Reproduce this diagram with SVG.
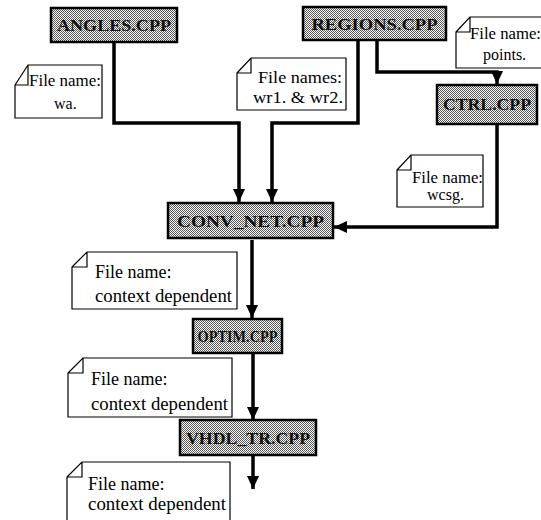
<svg xmlns="http://www.w3.org/2000/svg" width="541" height="520" viewBox="0 0 541 520">
<defs>
<pattern id="dots" width="2" height="2" patternUnits="userSpaceOnUse">
<rect width="2" height="2" fill="#ffffff"/>
<rect x="0" y="0" width="1" height="1" fill="#555"/>
<rect x="1" y="1" width="1" height="1" fill="#555"/>
</pattern>
<marker id="arr" markerUnits="userSpaceOnUse" markerWidth="14" markerHeight="14" viewBox="0 0 14 14" refX="13" refY="7" orient="auto">
<path d="M0,1 L13,7 L0,13 Z" fill="#000"/>
</marker>
</defs>
<style>
.box{fill:url(#dots);stroke:#000;stroke-width:2.5}
.bt{font-family:"Liberation Serif","Times New Roman",serif;font-weight:bold;font-size:17px;fill:#111;text-anchor:middle}
.note{fill:#fff;stroke:#000;stroke-width:1.2}
.nt{font-family:"Liberation Serif","Times New Roman",serif;font-size:16px;fill:#000}
.nt2{font-family:"Liberation Serif","Times New Roman",serif;font-size:18px;fill:#000}
.c{fill:none;stroke:#000;stroke-width:3.5}
</style>
<g id="connectors">
<path class="c" d="M114,43 V123 H239 V202" marker-end="url(#arr)"/>
<path class="c" d="M358,41 V123 H272 V202" marker-end="url(#arr)"/>
<path class="c" d="M377,41 V72 H497 V84" marker-end="url(#arr)"/>
<path class="c" d="M497,125 V227 H334" marker-end="url(#arr)"/>
<path class="c" d="M252,240 V318" marker-end="url(#arr)"/>
<path class="c" d="M253,353 V420" marker-end="url(#arr)"/>
<path class="c" d="M253,455 V489" marker-end="url(#arr)"/>
</g>
<g id="angles">
<rect class="box" x="51" y="8" width="126" height="34"/>
<text class="bt" x="114" y="31" textLength="114" lengthAdjust="spacingAndGlyphs">ANGLES.CPP</text>
</g>
<g id="regions">
<rect class="box" x="303" y="7" width="143" height="33"/>
<text class="bt" x="374.5" y="30" textLength="126" lengthAdjust="spacingAndGlyphs">REGIONS.CPP</text>
</g>
<g id="ctrl">
<rect class="box" x="437" y="85" width="100" height="39"/>
<text class="bt" x="487" y="110" textLength="88" lengthAdjust="spacingAndGlyphs">CTRL.CPP</text>
</g>
<g id="conv_net">
<rect class="box" x="168" y="203" width="165" height="35"/>
<text class="bt" x="250.5" y="227" textLength="147" lengthAdjust="spacingAndGlyphs">CONV_NET.CPP</text>
</g>
<g id="optim">
<rect class="box" x="193" y="319" width="89" height="34"/>
<text class="bt" x="237.5" y="342" textLength="80" lengthAdjust="spacingAndGlyphs">OPTIM.CPP</text>
</g>
<g id="vhdl_tr">
<rect class="box" x="180" y="420" width="136" height="35"/>
<text class="bt" x="248" y="444" textLength="124" lengthAdjust="spacingAndGlyphs">VHDL_TR.CPP</text>
</g>
<g id="note_wa">
<path class="note" d="M15,85 L28,65 H102 V118 H15 Z M15,85 H28 V65"/>
<text class="nt" x="29" y="86" textLength="72" lengthAdjust="spacingAndGlyphs">File name:</text>
<text class="nt" x="54" y="109">wa.</text>
</g>
<g id="note_wr">
<path class="note" d="M237,73 L251,58 H346 V110 H237 Z M237,73 H251 V58"/>
<text class="nt" x="258" y="83" textLength="84" lengthAdjust="spacingAndGlyphs">File names:</text>
<text class="nt" x="253" y="103" textLength="90" lengthAdjust="spacingAndGlyphs">wr1. &amp; wr2.</text>
</g>
<g id="note_points">
<path class="note" d="M456,32 L470,17 H542 V68 H456 Z M456,32 H470 V17"/>
<text class="nt" x="470" y="39" textLength="71" lengthAdjust="spacingAndGlyphs">File name:</text>
<text class="nt" x="483" y="60">points.</text>
</g>
<g id="note_wcsg">
<path class="note" d="M397,170 L411,155 H483 V207 H397 Z M397,170 H411 V155"/>
<text class="nt" x="412" y="183" textLength="71" lengthAdjust="spacingAndGlyphs">File name:</text>
<text class="nt" x="427" y="200">wcsg.</text>
</g>
<g id="note_ctx1">
<path class="note" d="M72,267 L87,252 H237 V309 H72 Z M72,267 H87 V252"/>
<text class="nt2" x="95" y="278">File name:</text>
<text class="nt2" x="95" y="302" textLength="137" lengthAdjust="spacingAndGlyphs">context dependent</text>
</g>
<g id="note_ctx2">
<path class="note" d="M68,373 L83,358 H232 V417 H68 Z M68,373 H83 V358"/>
<text class="nt2" x="91" y="385">File name:</text>
<text class="nt2" x="91" y="410" textLength="137" lengthAdjust="spacingAndGlyphs">context dependent</text>
</g>
<g id="note_ctx3">
<path class="note" d="M67,477 L82,462 H230 V522 H67 Z M67,477 H82 V462"/>
<text class="nt2" x="88" y="490">File name:</text>
<text class="nt2" x="88" y="510" textLength="138" lengthAdjust="spacingAndGlyphs">context dependent</text>
</g>
</svg>
